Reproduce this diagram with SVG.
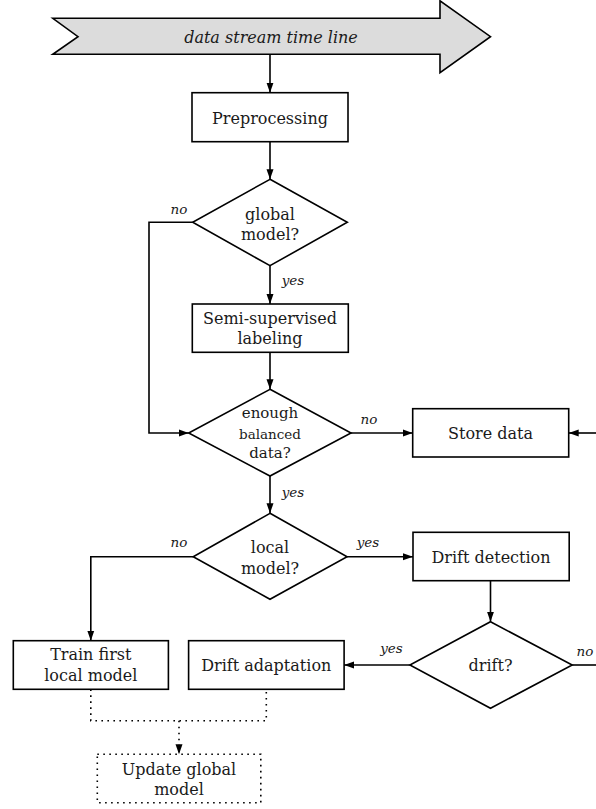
<svg xmlns="http://www.w3.org/2000/svg" width="596" height="809" viewBox="0 0 596 809">
<style>
.box{fill:#fff;stroke:#000;stroke-width:1.6}
.dbox{fill:#fff;stroke:#000;stroke-width:1.6;stroke-dasharray:1.6 4.4}
.t{font-family:"DejaVu Serif","Liberation Serif",serif;font-size:16px;fill:#1a1a1a;text-anchor:middle}
.lbl{font-family:"DejaVu Serif","Liberation Serif",serif;font-size:13.5px;font-style:italic;fill:#1a1a1a;text-anchor:middle}
.c{fill:none;stroke:#000;stroke-width:1.6}
.cd{fill:none;stroke:#000;stroke-width:1.6;stroke-dasharray:1.6 4.4}
</style>
<defs>
<marker id="ah" markerUnits="userSpaceOnUse" markerWidth="11" markerHeight="8" refX="10" refY="4" orient="auto">
<path d="M0,0.5 L10,4 L0,7.5 z" fill="#000"/>
</marker>
</defs>
<g id="timeline">
<polygon points="52.8,18.3 440,18.3 440,0.8 490.5,36.7 440,72.7 440,54.3 52.8,54.3 78,36.7" fill="#dcdcdc" stroke="#000" stroke-width="1.6"/>
<text class="t" x="271" y="42.5" font-style="italic">data stream time line</text>
</g>
<g id="preprocessing">
<rect class="box" x="192" y="92.7" width="156" height="49"/>
<text class="t" x="270" y="123.5">Preprocessing</text>
</g>
<g id="global-model">
<polygon class="box" points="270,179.3 347.3,222.3 270,265.7 192.7,222.3"/>
<text class="t" x="270" y="219.5">global</text>
<text class="t" x="270" y="240">model?</text>
</g>
<g id="semi-supervised">
<rect class="box" x="192.3" y="304" width="156" height="48.3"/>
<text class="t" x="270" y="324">Semi-supervised</text>
<text class="t" x="270" y="344">labeling</text>
</g>
<g id="enough-data">
<polygon class="box" points="270,389.3 351,433 270,476 188.7,433"/>
<text class="t" x="270" y="418.3" style="font-size:15px">enough</text>
<text class="t" x="270" y="439" style="font-size:13.5px">balanced</text>
<text class="t" x="270" y="458.3" style="font-size:15px">data?</text>
</g>
<g id="store-data">
<rect class="box" x="412.7" y="408.7" width="156" height="48.3"/>
<text class="t" x="490.5" y="439">Store data</text>
</g>
<g id="local-model">
<polygon class="box" points="270,513.3 347.1,556.7 270,599.3 193.2,556.7"/>
<text class="t" x="270" y="553.3">local</text>
<text class="t" x="270" y="574">model?</text>
</g>
<g id="drift-detection">
<rect class="box" x="413" y="532.3" width="156.2" height="48.4"/>
<text class="t" x="491" y="562.5">Drift detection</text>
</g>
<g id="drift">
<polygon class="box" points="490.5,621.7 572.2,665 490.5,708.3 409.9,665"/>
<text class="t" x="490.5" y="671">drift?</text>
</g>
<g id="drift-adaptation">
<rect class="box" x="188.6" y="640.7" width="155.5" height="48.6"/>
<text class="t" x="266.3" y="671">Drift adaptation</text>
</g>
<g id="train-first">
<rect class="box" x="13.3" y="640.7" width="155.1" height="48.6"/>
<text class="t" x="90.8" y="660.3">Train first</text>
<text class="t" x="90.8" y="680.7">local model</text>
</g>
<g id="update-global">
<rect class="dbox" x="97.3" y="754.3" width="163.5" height="48.4"/>
<text class="t" x="179" y="775">Update global</text>
<text class="t" x="179" y="795">model</text>
</g>
<g id="connectors">
<line class="c" x1="270" y1="54.3" x2="270" y2="92.7" marker-end="url(#ah)"/>
<line class="c" x1="270" y1="141.7" x2="270" y2="179.3" marker-end="url(#ah)"/>
<line class="c" x1="270" y1="265.7" x2="270" y2="304" marker-end="url(#ah)"/>
<text class="lbl" x="293" y="285">yes</text>
<polyline class="c" points="192.7,222.3 149,222.3 149,433 188.7,433" marker-end="url(#ah)"/>
<text class="lbl" x="179" y="214.3">no</text>
<line class="c" x1="270" y1="352.3" x2="270" y2="389.3" marker-end="url(#ah)"/>
<line class="c" x1="351" y1="433" x2="412.7" y2="433" marker-end="url(#ah)"/>
<text class="lbl" x="369" y="424.3">no</text>
<line class="c" x1="596" y1="433" x2="568.7" y2="433" marker-end="url(#ah)"/>
<line class="c" x1="270" y1="476" x2="270" y2="513.3" marker-end="url(#ah)"/>
<text class="lbl" x="293" y="496.7">yes</text>
<polyline class="c" points="193.2,556.7 90.8,556.7 90.8,640.7" marker-end="url(#ah)"/>
<text class="lbl" x="179" y="547.3">no</text>
<line class="c" x1="347.1" y1="556.7" x2="413" y2="556.7" marker-end="url(#ah)"/>
<text class="lbl" x="368" y="547.3">yes</text>
<line class="c" x1="490.5" y1="580.7" x2="490.5" y2="621.7" marker-end="url(#ah)"/>
<line class="c" x1="409.9" y1="665" x2="344.1" y2="665" marker-end="url(#ah)"/>
<text class="lbl" x="391.5" y="653.3">yes</text>
<line class="c" x1="572.2" y1="665" x2="596" y2="665"/>
<text class="lbl" x="585" y="655.7">no</text>
<polyline class="cd" points="90.8,689.3 90.8,720.7 266.3,720.7 266.3,689.3"/>
<line class="cd" x1="179" y1="720.7" x2="179" y2="754.3" marker-end="url(#ah)"/>
</g>
</svg>
